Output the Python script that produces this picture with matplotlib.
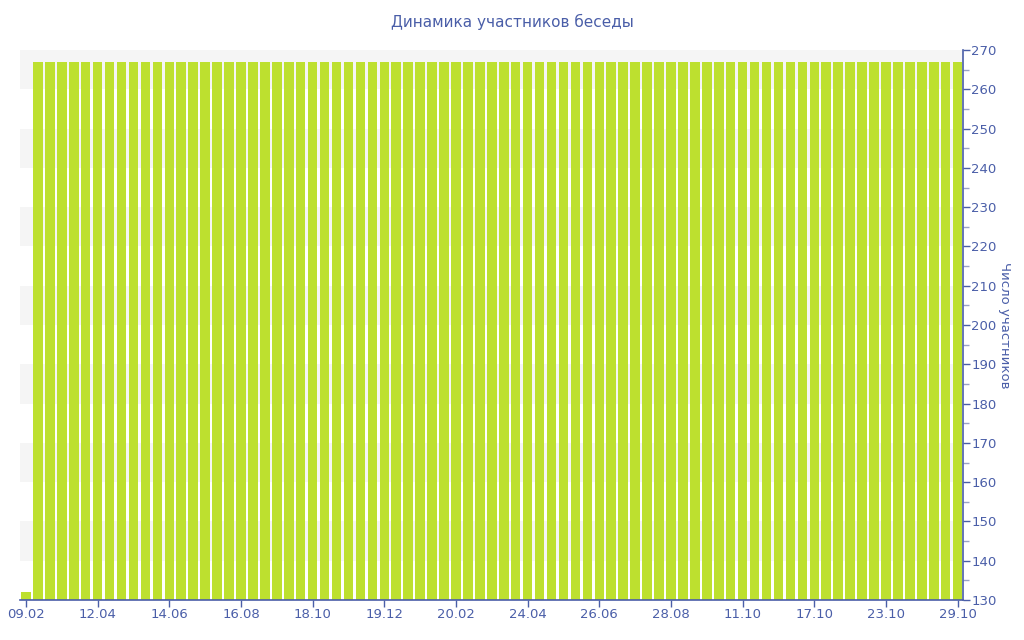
import numpy as np
import matplotlib
matplotlib.use('Agg')
import matplotlib.pyplot as plt

# данные: первый день - 132 участника, потом 78 дней по 267
values = [132] + [267] * 78
tick_pos = [0, 6, 12, 18, 24, 30, 36, 42, 48, 54, 60, 66, 72, 78]
tick_labels = ['09.02', '12.04', '14.06', '16.08', '18.10', '19.12', '20.02',
               '24.04', '26.06', '28.08', '11.10', '17.10', '23.10', '29.10']

blue = '#4a5ea8'
bar_color = '#bde02f'

plt.rcParams['font.family'] = ['DejaVu Sans']
fig = plt.figure(figsize=(10.24, 6.4), dpi=100)
ax = fig.add_axes([20 / 1024, 40 / 640, 943 / 1024, 550 / 640])

# полосы фона
for lo in range(140, 270, 20):
    ax.axhspan(lo, lo + 10, color='#f5f5f5', zorder=0, lw=0)

x = np.arange(len(values))
ax.bar(x, np.array(values) - 130, bottom=130, width=0.8, color=bar_color,
       linewidth=0, zorder=2)

ax.set_xlim(-0.5, len(values) - 0.55)
ax.set_ylim(130, 270)
ax.set_xticks(tick_pos)
ax.set_xticklabels(tick_labels)
ax.set_yticks(np.arange(130, 271, 10))
ax.set_yticks(np.arange(135, 270, 10), minor=True)

ax.yaxis.tick_right()
ax.yaxis.set_label_position('right')
for s in ['top', 'left']:
    ax.spines[s].set_visible(False)
for s in ['bottom', 'right']:
    ax.spines[s].set_color(blue)
    ax.spines[s].set_linewidth(1.2)

ax.tick_params(axis='both', colors=blue, labelcolor=blue, labelsize=9.5,
               length=5, width=1, direction='out', pad=1)
ax.tick_params(axis='y', which='minor', colors='#9aa3c8', length=4, width=1)

ax.set_ylabel('Число участников', color=blue, fontsize=9.5, rotation=-90,
              labelpad=10)
fig.text(0.5, 1 - 22 / 640, 'Динамика участников беседы', color=blue,
         fontsize=11, ha='center', va='center')

fig.savefig('out.png', dpi=100)
